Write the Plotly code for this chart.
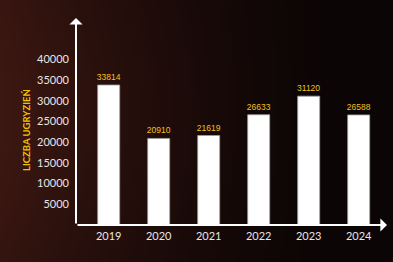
import base64, struct, zlib
import numpy as np
import plotly.graph_objects as go

# ---- data ----
years = ["2019", "2020", "2021", "2022", "2023", "2024"]
bites = [33814, 20910, 21619, 26633, 31120, 26588]
tick_vals = [5000, 10000, 15000, 20000, 25000, 30000, 35000, 40000]
y_title = "LICZBA UGRYZIEŃ"

W, H = 393, 262
ML, MR, MT, MB = 76, 6, 18, 37
PW, PH = W - ML - MR, H - MT - MB


def png_uri(arr):
    h, w, _ = arr.shape
    raw = b"".join(b"\x00" + arr[i].tobytes() for i in range(h))

    def chunk(t, d):
        c = struct.pack(">I", len(d)) + t + d
        return c + struct.pack(">I", zlib.crc32(t + d) & 0xFFFFFFFF)

    png = b"\x89PNG\r\n\x1a\n" + chunk(b"IHDR", struct.pack(">IIBBBBB", w, h, 8, 2, 0, 0, 0))
    png += chunk(b"IDAT", zlib.compress(raw, 9)) + chunk(b"IEND", b"")
    return "data:image/png;base64," + base64.b64encode(png).decode()


# background glow (decorative)
gw, gh = 99, 66
xs = np.linspace(0, W, gw)[None, :]
ys = np.linspace(0, H, gh)[:, None]
t = np.clip(1 - xs / 360.0, 0, 1) ** 1.5
t = t * (0.85 + 0.15 * np.cos((ys - 110) / 262 * np.pi))
base = np.array([11, 5, 5], float)
red = np.array([62, 24, 18], float)
img = base[None, None, :] + (red - base)[None, None, :] * t[..., None]
img = np.clip(img, 0, 255).astype(np.uint8)

fig = go.Figure()
fig.add_trace(go.Bar(
    x=years, y=bites,
    marker=dict(color="#ffffff", line=dict(color="#a0a0a0", width=0.8)),
    width=0.44,
    text=[str(v) for v in bites],
    textposition="outside",
    constraintext="none",
    textfont=dict(family="Liberation Sans", size=8.5, color="#f0c020"),
    cliponaxis=False,
))

fig.add_layout_image(dict(
    source=png_uri(img), xref="paper", yref="paper",
    x=-ML / PW, y=1 + MT / PH, sizex=W / PW, sizey=H / PH,
    sizing="stretch", layer="below", xanchor="left", yanchor="top",
))

# axis arrows
fig.add_annotation(x=0, y=1, xref="paper", yref="paper", ax=0, ay=PH,
                   axref="pixel", ayref="pixel", text="", showarrow=True,
                   arrowhead=1, arrowsize=1.1, arrowwidth=2, arrowcolor="#ffffff")
fig.add_annotation(x=1, y=0, xref="paper", yref="paper", ax=-PW, ay=0,
                   text="", showarrow=True,
                   arrowhead=1, arrowsize=1.1, arrowwidth=2, arrowcolor="#ffffff")

fig.add_annotation(x=(18.5 - ML) / PW, y=(H - MB - 130) / PH, xref="paper", yref="paper",
                   text=y_title, textangle=-90, showarrow=False,
                   font=dict(family="Lato", size=9.5, color="#f2c200", weight="bold"))

fig.update_layout(
    width=W, height=H,
    margin=dict(l=ML, r=MR, t=MT, b=MB),
    paper_bgcolor="#0c0606", plot_bgcolor="rgba(0,0,0,0)",
    showlegend=False, bargap=0.56,
    xaxis=dict(range=[-0.654, 5.566], showgrid=False, zeroline=False, showline=False,
               ticks="", tickfont=dict(family="Lato", size=11, color="#e6e6e6"),
               ticklabelstandoff=3),
    yaxis=dict(range=[0, 50000], showgrid=False, zeroline=False, showline=False,
               tickvals=tick_vals, ticktext=[str(v) for v in tick_vals], ticks="",
               tickfont=dict(family="Lato", size=11, color="#e6e6e6"),
               ticklabelstandoff=6),
)

fig.write_html("out.html")
